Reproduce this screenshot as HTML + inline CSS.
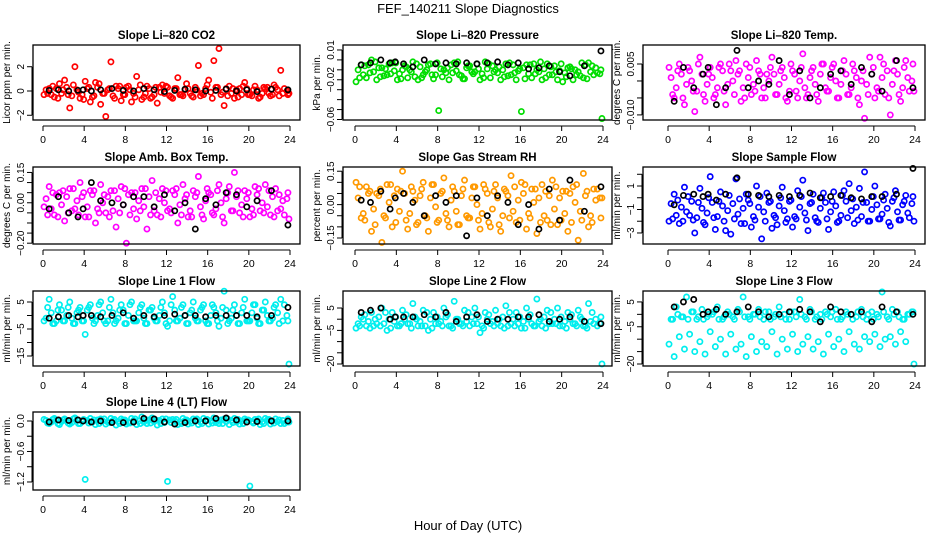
<!DOCTYPE html>
<html><head><meta charset="utf-8"><style>
body{margin:0;background:#fff}
svg{display:block;font-family:"Liberation Sans",Arial,sans-serif}
</style></head><body>
<svg id="chart" width="936" height="540" viewBox="0 0 936 540" xmlns="http://www.w3.org/2000/svg">
<rect width="936" height="540" fill="#fff"/>
<text x="468" y="13" text-anchor="middle" font-size="13">FEF_140211  Slope Diagnostics</text>
<text x="468" y="530" text-anchor="middle" font-size="13">Hour of Day (UTC)</text>
</svg>
<script>
const hoursA=[0.1,0.6,1.1,1.6,2.1,2.6,3.1,3.6,4.1,4.6,5.1,5.6,6.1,6.6,7.1,7.6,8.1,8.6,9.1,9.6,10.1,10.6,11.1,11.6,12.1,12.6,13.1,13.6,14.1,14.6,15.1,15.6,16.1,16.6,17.1,17.6,18.1,18.6,19.1,19.6,20.1,20.6,21.1,21.6,22.1,22.6,23.1,23.9];
const hoursB=[0.3,0.8,1.3,1.8,2.3,2.8,3.3,3.8,4.3,4.8,5.3,5.8,6.3,6.8,7.3,7.8,8.3,8.8,9.3,9.8,10.3,10.8,11.3,11.8,12.3,12.8,13.3,13.8,14.3,14.8,15.3,15.8,16.3,16.8,17.3,17.8,18.3,18.8,19.3,19.8,20.3,20.8,21.3,21.8,22.3,22.8,23.3,23.7];
const hoursC=[0.45,0.95,1.45,1.95,2.45,2.95,3.45,3.95,4.45,4.95,5.45,5.95,6.45,6.95,7.45,7.95,8.45,8.95,9.45,9.95,10.45,10.95,11.45,11.95,12.45,12.95,13.45,13.95,14.45,14.95,15.45,15.95,16.45,16.95,17.45,17.95,18.45,18.95,19.45,19.95,20.45,20.95,21.45,21.95,22.45,22.95,23.45,23.8];
const hoursK=[0.6,1.5,2.5,3.4,3.9,4.7,5.6,6.7,7.8,8.8,9.8,10.8,11.8,12.8,13.8,14.8,15.8,16.8,17.8,18.8,19.8,20.8,22.2,23.8];

const co2Outer=[-0.3,0.2,-0.5,0.6,0.9,-1.4,2.0,-0.6,0.8,-0.9,0.7,-1.1,-2.1,2.4,0.4,-0.8,0.3,-0.9,1.2,-0.7,0.4,-0.5,-1.0,0.5,0.3,-0.6,1.1,-0.4,0.2,-0.5,2.1,-0.3,0.9,2.5,3.5,-1.2,0.4,-0.6,0.2,0.7,-0.3,0.4,-0.5,0.2,-0.4,0.3,1.7,-0.2];
const co2Core=[0.1,-0.3,0.2,-0.2,0.3,-0.4,0.1,-0.3,0.2,-0.5,0.3,-0.2,0.1,-0.4,0.2,-0.3,0.4,-0.2,0.1,-0.5,0.2,-0.3,0.3,-0.2,-0.4,0.2,-0.3,0.1,-0.2,0.3,-0.4,0.2,-0.1,0.3,-0.3,0.2,-0.2,0.1,-0.3,0.2,-0.4,0.1,-0.2,0.3,-0.3,0.1,-0.2,0.0];
const co2Mid=[-0.2,0.4,-0.6,0.1,-0.3,0.5,-0.1,-0.7,0.3,-0.4,0.6,-0.2,0.2,-0.6,0.4,-0.3,0.1,-0.5,0.5,-0.2,-0.6,0.3,-0.1,0.4,-0.5,0.2,-0.3,0.6,-0.4,0.1,-0.2,0.5,-0.6,0.3,-0.1,-0.4,0.2,-0.5,0.4,-0.3,0.1,-0.6,0.3,-0.2,0.5,-0.4,0.2,-0.3];
const co2Black=[0.05,0.1,0.0,0.05,0.1,0.0,0.1,0.2,0.05,0.0,0.2,0.1,-0.05,0.05,0.15,0.1,0.0,0.05,0.15,0.0,0.1,-0.05,0.15,0.1];

const presOuter=[-0.022,-0.005,-0.018,0.0,-0.02,-0.008,-0.015,-0.003,-0.02,-0.01,-0.018,-0.002,-0.02,-0.015,-0.005,-0.019,-0.051,-0.01,-0.02,-0.003,-0.015,-0.019,-0.006,-0.012,-0.02,-0.002,-0.018,-0.01,-0.02,-0.004,-0.015,-0.02,-0.052,-0.005,-0.018,-0.01,-0.02,-0.004,-0.015,-0.02,-0.022,-0.008,-0.02,-0.012,-0.018,-0.003,-0.015,-0.059];
const presCore=[-0.01,-0.015,-0.005,-0.012,-0.008,-0.016,-0.004,-0.011,-0.014,-0.006,-0.01,-0.017,-0.007,-0.012,-0.004,-0.015,-0.009,-0.013,-0.005,-0.011,-0.016,-0.008,-0.012,-0.004,-0.014,-0.009,-0.006,-0.013,-0.01,-0.016,-0.005,-0.011,-0.008,-0.014,-0.004,-0.012,-0.009,-0.015,-0.006,-0.011,-0.013,-0.007,-0.01,-0.016,-0.005,-0.012,-0.008,-0.014];
const presMid=[-0.018,-0.006,-0.013,-0.002,-0.017,-0.009,-0.014,-0.003,-0.019,-0.007,-0.012,-0.004,-0.018,-0.01,-0.015,-0.003,-0.017,-0.008,-0.013,-0.002,-0.019,-0.006,-0.014,-0.009,-0.018,-0.004,-0.012,-0.007,-0.017,-0.003,-0.013,-0.009,-0.019,-0.005,-0.014,-0.002,-0.018,-0.007,-0.012,-0.004,-0.017,-0.009,-0.015,-0.003,-0.019,-0.006,-0.013,-0.01];
const presBlack=[-0.005,-0.003,0.0,-0.003,-0.002,-0.004,-0.007,0.0,-0.004,-0.003,-0.004,-0.003,-0.004,-0.003,-0.002,-0.005,-0.003,-0.009,-0.008,-0.006,-0.012,-0.016,-0.006,0.009];

const tempOuter=[0.004,-0.005,0.005,-0.007,0.003,-0.009,0.007,-0.006,0.004,-0.004,0.005,-0.007,0.003,0.006,-0.006,0.005,-0.004,0.006,-0.005,0.002,0.007,-0.004,0.004,-0.006,0.003,-0.005,0.008,-0.004,0.004,-0.006,0.005,-0.003,0.005,-0.005,0.006,-0.004,0.003,-0.007,-0.011,0.007,-0.005,0.007,-0.004,-0.010,0.006,-0.006,0.006,-0.003];
const tempCore=[0.001,-0.002,0.002,-0.001,0.0,-0.003,0.002,-0.001,0.001,-0.002,0.003,-0.001,0.0,0.002,-0.002,0.001,-0.001,0.003,-0.002,0.0,0.002,-0.001,0.001,-0.003,0.002,0.0,-0.002,0.001,-0.001,0.002,-0.002,0.001,0.0,-0.001,0.002,-0.002,0.001,0.0,-0.001,0.002,-0.002,0.001,0.003,-0.001,0.002,-0.002,0.001,0.0];
const tempMid=[-0.004,0.003,-0.005,0.004,-0.003,0.005,-0.004,0.002,-0.005,0.004,-0.003,0.005,-0.004,0.003,-0.005,0.004,-0.003,0.002,-0.005,0.004,-0.004,0.003,-0.005,0.005,-0.003,0.004,-0.005,0.003,-0.004,0.005,-0.003,0.004,-0.005,0.003,-0.004,0.005,-0.005,0.003,-0.004,0.004,-0.003,0.005,-0.005,0.003,-0.004,0.004,-0.003,0.005];
const tempBlack=[-0.006,0.004,-0.002,0.002,0.004,-0.007,-0.002,0.009,-0.002,0.0,-0.001,0.006,-0.004,0.003,-0.005,-0.002,0.002,0.003,-0.001,0.004,0.002,-0.003,0.006,-0.002];

const ambOuter=[-0.02,0.08,-0.06,0.05,-0.09,0.07,-0.03,0.1,-0.07,0.06,-0.1,0.09,-0.05,0.06,-0.12,0.08,-0.2,0.05,-0.08,0.07,-0.13,0.11,-0.06,0.07,-0.04,0.06,-0.1,0.09,-0.07,0.06,0.13,-0.08,0.05,-0.06,0.09,-0.1,0.08,0.15,-0.05,0.06,-0.07,0.08,-0.04,0.09,-0.06,0.07,-0.03,-0.08];
const ambCore=[0.02,-0.03,0.04,-0.01,0.03,-0.04,0.01,0.03,-0.02,0.04,-0.03,0.0,0.03,-0.04,0.02,-0.01,0.04,-0.03,0.01,-0.02,0.03,-0.04,0.02,0.0,-0.03,0.04,-0.01,0.02,-0.04,0.03,-0.02,0.01,0.04,-0.03,0.0,0.02,-0.04,0.03,-0.01,0.02,-0.03,0.04,0.0,-0.02,0.03,-0.04,0.01,0.02];
const ambMid=[-0.06,0.05,-0.07,0.06,-0.05,0.07,-0.06,0.05,-0.07,0.06,-0.05,0.04,-0.07,0.06,-0.05,0.07,-0.06,0.05,-0.04,0.07,-0.06,0.05,-0.07,0.06,-0.05,0.07,-0.06,0.04,-0.07,0.05,-0.06,0.07,-0.05,0.06,-0.07,0.05,-0.04,0.06,-0.07,0.05,-0.06,0.07,-0.05,0.06,-0.07,0.04,-0.06,0.05];
const ambBlack=[-0.03,0.03,-0.05,-0.07,-0.03,0.1,0.01,0.0,-0.01,0.03,0.03,-0.02,0.04,-0.04,0.0,-0.13,0.02,-0.01,0.05,0.04,-0.02,0.01,0.06,-0.11];

const rhOuter=[0.1,-0.06,0.08,-0.12,0.05,-0.17,0.09,-0.1,0.07,0.15,-0.11,0.06,-0.08,0.1,-0.12,0.09,-0.07,0.12,-0.1,0.06,-0.09,0.11,-0.06,0.08,-0.11,0.07,-0.1,0.09,-0.12,0.06,0.13,-0.08,0.1,-0.11,0.07,-0.13,0.09,-0.07,0.11,-0.09,0.06,-0.12,0.08,-0.16,0.14,-0.1,0.07,0.03];
const rhCore=[0.03,-0.04,0.05,-0.02,0.04,-0.05,0.01,0.04,-0.03,0.05,-0.04,0.02,0.04,-0.05,0.03,-0.01,0.05,-0.04,0.02,-0.03,0.04,-0.05,0.03,0.0,-0.04,0.05,-0.02,0.03,-0.05,0.04,-0.03,0.02,0.05,-0.04,0.01,0.03,-0.05,0.04,-0.02,0.03,-0.04,0.05,0.01,-0.03,0.04,-0.05,0.02,0.03];
const rhMid=[0.08,-0.07,0.06,-0.09,0.07,-0.06,0.09,-0.08,0.06,-0.07,0.08,-0.09,0.07,-0.06,0.09,-0.08,0.06,-0.07,0.08,-0.09,0.07,-0.06,0.08,-0.07,0.09,-0.08,0.06,-0.09,0.07,-0.06,0.08,-0.07,0.09,-0.06,0.07,-0.08,0.06,-0.09,0.08,-0.07,0.06,-0.08,0.09,-0.07,0.06,-0.08,0.07,-0.06];
const rhBlack=[0.02,0.01,0.06,-0.02,0.03,0.05,0.01,-0.05,0.04,0.01,0.04,-0.14,0.03,-0.05,0.04,0.01,-0.09,0.0,-0.11,0.07,-0.07,0.11,-0.03,0.08];

const flowOuter=[-2.0,0.3,-2.2,0.9,-1.5,-3.0,0.8,-2.3,1.8,-2.7,0.5,-2.8,-3.1,1.6,-2.2,0.3,-2.5,1.0,-3.5,0.4,-2.6,-2.3,0.9,-1.8,-2.5,0.6,1.5,-2.8,0.3,-2.1,0.4,-2.7,0.5,-2.0,0.6,1.2,-2.2,0.8,2.2,-2.0,1.0,-1.8,0.3,-2.4,0.6,-1.9,0.2,-2.0];
const flowCore=[-0.5,-1.5,-0.8,-1.2,-0.3,-1.7,-0.9,-1.3,-0.4,-1.6,-0.7,-1.1,-0.5,-1.4,-0.9,-0.2,-1.6,-0.8,-1.2,-0.4,-1.5,-0.7,-1.1,-0.3,-1.6,-0.8,-1.3,-0.5,-1.7,-0.9,-0.4,-1.2,-0.7,-1.5,-0.3,-1.1,-0.8,-1.6,-0.4,-1.0,-0.6,-1.4,-0.9,-0.3,-1.2,-0.6,-1.3,-0.5];
const flowMid=[-1.8,-0.2,-2.0,0.1,-1.9,-0.4,-2.1,0.0,-1.7,-0.3,-2.0,0.2,-1.8,-0.1,-2.2,-0.5,-1.9,0.1,-2.0,-0.3,-1.7,0.0,-2.1,-0.2,-1.8,0.1,-1.9,-0.4,-2.0,0.0,-1.8,-0.3,-2.1,0.2,-1.7,-0.1,-1.9,-0.4,-2.0,0.1,-1.8,-0.2,-2.1,0.0,-1.9,-0.3,-1.7,0.1];
const flowBlack=[-0.6,0.2,0.3,0.1,0.3,-0.2,0.3,1.7,0.3,0.2,0.1,0.2,0.1,0.2,0.4,0.0,0.1,0.2,0.0,-0.1,0.1,0.1,0.3,2.5];

const l1Outer=[-2,6,-3,4,-2,5,-3,3,-7,4,-2,5,-3,6,-2,4,-3,5,-2,4,-3,3,-2,5,-4,7,-2,4,-3,5,-2,4,-3,3,-4,9,-2,4,-3,6,-2,4,-3,5,-2,4,6,-18];
const l1Core=[-1,1,-2,2,0,-1,1,-2,2,-1,0,1,-2,1,-1,2,0,-2,1,-1,2,-1,0,1,-2,2,-1,0,1,-1,2,-2,0,1,-1,2,-1,0,1,-2,1,-1,2,0,-1,1,-2,0];
const l1Mid=[3,-3,2,-2,3,-3,2,-2,3,-3,4,-2,3,-3,2,-3,4,-2,3,-3,2,-2,3,-3,4,-2,3,-3,2,-2,3,-3,4,-2,3,-3,2,-3,3,-2,4,-3,2,-2,3,-3,4,-2];
const l1Black=[-1,-0.5,0,-0.5,0,0,-0.5,0,1,-1,0,-0.5,0,0.5,0,0,-0.5,0,0,0,0,-0.5,0,3];

const l2Outer=[-4,1,-3,3,-2,5,-5,3,-3,4,-2,7,-3,4,-5,3,-2,5,-3,8,-2,4,-3,5,-6,3,-2,4,-3,6,-2,3,-4,5,-2,9,-3,4,-2,5,-3,3,-2,4,-3,7,-2,-20];
const l2Core=[-2,0,-1,-3,1,-2,0,-1,-3,0,-2,1,-1,-3,0,-2,-1,1,-3,0,-2,-1,1,-2,-3,0,-1,-2,1,-3,0,-2,-1,0,-3,-1,1,-2,0,-3,-1,0,-2,1,-3,-1,0,-2];
const l2Mid=[-3,2,-4,0,-3,3,-4,1,-2,2,-4,0,-3,3,-4,1,-3,2,-4,0,-3,3,-2,1,-4,2,-3,0,-4,3,-3,1,-4,2,-3,0,-4,3,-2,1,-4,2,-3,0,-4,3,-3,1];
const l2Black=[3,4,5,0,1,1,1,2,1,3,-1,1,2,-1,0,0,1,1,2,-1,0,1,-1,-2];

const l3Outer=[-12,-17,-9,-14,-8,-15,-11,-16,-7,-13,-10,-16,-8,-14,-12,-17,-9,-15,-11,-13,-7,-16,-10,-14,-8,-15,-12,-9,-14,-11,-16,-8,-13,-10,-15,-7,-12,-14,-9,-11,-8,-13,-10,-9,-12,-7,-11,-20];
const l3Core=[-2,3,-1,7,1,-2,2,-1,0,3,-2,1,-1,2,7,-1,0,2,-2,1,-1,3,0,-2,1,6,-1,2,-2,0,1,-1,2,-2,1,0,-1,2,-2,1,0,9,-1,2,1,-2,0,1];
const l3Mid=[-2,0,-1,-2,1,-1,-2,0,1,-2,-1,0,-2,1,-1,-2,0,-1,1,-2,0,-1,-2,1,-1,0,-2,1,-1,-2,0,1,-2,-1,0,-2,1,-1,0,-2,-1,1,-2,0,-1,-2,0,1];
const l3Black=[3,5,6,0,1,2,0,1,3,1,-1,0,1,2,1,-3,3,1,0,1,-3,3,1,0];

const l4Outer=[0.03,-0.05,0.05,-0.07,0.04,-0.06,0.06,-0.05,-1.15,0.05,-0.07,0.04,-0.06,0.05,-0.08,0.04,-0.06,0.05,-0.07,0.08,-0.05,0.06,-0.08,0.04,-1.19,0.03,-0.07,0.05,-0.06,0.04,-0.07,0.05,-0.06,0.06,-0.05,0.04,-0.07,0.05,-0.06,0.04,-1.28,0.03,-0.07,0.05,-0.06,0.04,-0.05,-0.02];
const l4Core=[0.01,-0.02,0.02,-0.01,0.0,-0.03,0.02,-0.01,0.01,-0.02,0.02,0.0,-0.02,0.01,-0.01,0.02,-0.03,0.01,0.0,-0.02,0.02,-0.01,0.01,-0.03,0.02,0.0,-0.02,0.01,-0.01,0.02,-0.02,0.01,0.0,-0.03,0.02,-0.01,0.01,-0.02,0.0,0.02,-0.01,0.01,-0.02,0.02,0.0,-0.01,0.01,-0.02];
const l4Mid=[-0.04,0.03,-0.05,0.02,-0.04,0.04,-0.05,0.03,-0.04,0.02,-0.05,0.04,-0.03,0.03,-0.05,0.02,-0.04,0.04,-0.05,0.03,-0.04,0.02,-0.05,0.04,-0.03,0.03,-0.05,0.02,-0.04,0.04,-0.05,0.03,-0.04,0.02,-0.05,0.04,-0.03,0.03,-0.05,0.02,-0.04,0.04,-0.05,0.03,-0.04,0.02,-0.05,0.04];
const l4Black=[-0.02,0.02,0.01,0.02,0.0,-0.02,0.0,-0.03,-0.03,-0.02,0.05,0.04,-0.02,-0.06,-0.03,0.0,0.0,0.05,0.06,0.02,-0.02,-0.01,0.0,0.0];

const xTicks=[0,4,8,12,16,20,24];

const cols=[{bx:33,bw:267,x0:43,x24:290},{bx:343,bw:269,x0:355,x24:603},{bx:643,bw:282,x0:668,x24:915}];
const rows=[{by:45,bh:75},{by:167,bh:77},{by:291,bh:75},{by:412,bh:78}];
const panels=[
 {name:"co2",title:"Slope Li\u2013820 CO2",ylab:"Licor ppm per min.",c:0,r:0,ymin:-2.39,ymax:3.79,ticks:[-2,0,2],labs:["\u22122","0","2"],color:"#ff0000",outer:co2Outer,core:co2Core,mid:co2Mid,black:co2Black},
 {name:"pressure",title:"Slope Li\u2013820 Pressure",ylab:"kPa per min.",c:1,r:0,ymin:-0.0605,ymax:0.015,ticks:[0.01,0,-0.01,-0.02,-0.03,-0.04,-0.05,-0.06],labs:["0.01","","","\u22120.02","","","","\u22120.06"],color:"#00dd00",outer:presOuter,core:presCore,mid:presMid,black:presBlack},
 {name:"temp",title:"Slope Li\u2013820 Temp.",ylab:"degrees C per min.",c:2,r:0,ymin:-0.0115,ymax:0.0106,ticks:[0.005,0,-0.005,-0.01],labs:["0.005","","","\u22120.010"],color:"#ff00ff",outer:tempOuter,core:tempCore,mid:tempMid,black:tempBlack},
 {name:"amb-box-temp",title:"Slope Amb. Box Temp.",ylab:"degrees C per min.",c:0,r:1,ymin:-0.204,ymax:0.177,ticks:[0.15,0.1,0.05,0,-0.05,-0.1,-0.15,-0.2],labs:["0.15","","","0.00","","","","\u22120.20"],color:"#ff00ff",outer:ambOuter,core:ambCore,mid:ambMid,black:ambBlack},
 {name:"gas-stream-rh",title:"Slope Gas Stream RH",ylab:"percent per min.",c:1,r:1,ymin:-0.177,ymax:0.169,ticks:[0.15,0.1,0.05,0,-0.05,-0.1,-0.15],labs:["0.15","","","0.00","","","\u22120.15"],color:"#ff9900",outer:rhOuter,core:rhCore,mid:rhMid,black:rhBlack},
 {name:"sample-flow",title:"Slope Sample Flow",ylab:"ml/min per min.",c:2,r:1,ymin:-3.94,ymax:2.62,ticks:[2,1,0,-1,-2,-3],labs:["","1","","\u22121","","\u22123"],color:"#0000ff",outer:flowOuter,core:flowCore,mid:flowMid,black:flowBlack},
 {name:"line1-flow",title:"Slope Line 1 Flow",ylab:"ml/min per min.",c:0,r:2,ymin:-18.7,ymax:9.07,ticks:[5,0,-5,-10,-15],labs:["5","","\u22125","","\u221215"],color:"#00eeee",outer:l1Outer,core:l1Core,mid:l1Mid,black:l1Black},
 {name:"line2-flow",title:"Slope Line 2 Flow",ylab:"ml/min per min.",c:1,r:2,ymin:-20.9,ymax:12.6,ticks:[5,0,-5,-10,-15,-20],labs:["5","","\u22125","","","\u221220"],color:"#00eeee",outer:l2Outer,core:l2Core,mid:l2Mid,black:l2Black},
 {name:"line3-flow",title:"Slope Line 3 Flow",ylab:"ml/min per min.",c:2,r:2,ymin:-20.8,ymax:9.4,ticks:[5,0,-5,-10,-15,-20],labs:["5","","\u22125","","","\u221220"],color:"#00eeee",outer:l3Outer,core:l3Core,mid:l3Mid,black:l3Black},
 {name:"line4-flow",title:"Slope Line 4 (LT) Flow",ylab:"ml/min per min.",c:0,r:3,ymin:-1.358,ymax:0.177,ticks:[0,-0.3,-0.6,-0.9,-1.2],labs:["0.0","","\u22120.6","","\u22121.2"],color:"#00eeee",outer:l4Outer,core:l4Core,mid:l4Mid,black:l4Black}
];
const NS="http://www.w3.org/2000/svg";
const svg=document.getElementById('chart');
function mk(tag,attrs,parent){const e=document.createElementNS(NS,tag);for(const k in attrs)e.setAttribute(k,attrs[k]);(parent||svg).appendChild(e);return e;}
panels.forEach(p=>{
 const C=cols[p.c],R=rows[p.r];
 const g=mk('g',{});
 
 
 const xs=h=>C.x0+(C.x24-C.x0)*h/24;
 const ys=v=>R.by+R.bh*(p.ymax-v)/(p.ymax-p.ymin);
 const t=mk('text',{x:C.bx+C.bw/2,y:R.by-6,'text-anchor':'middle','font-size':'11.5','font-weight':'bold'},g);
 t.textContent=p.title;
 
 
 const yl=mk('text',{transform:`translate(${C.bx-23},${R.by+R.bh/2}) rotate(-90)`,'text-anchor':'middle','font-size':'10'},g);
 yl.textContent=p.ylab;
 
 
 const pts=mk('g',{fill:'none','stroke-width':'1.7'},g);
 
 
 [[p.outer,hoursA],[p.core,hoursB],[p.mid,hoursC]].forEach(([vals,hs])=>{
  vals.forEach((v,i)=>{
   const c=mk('circle',{cx:xs(hs[i]),cy:ys(v),r:2.6,stroke:p.color},pts);
   
   
  });
 });
 p.black.forEach((v,i)=>{
  const c=mk('circle',{cx:xs(hoursK[i]),cy:ys(v),r:2.6,stroke:'#000'},pts);
  
  
 });
 const box=mk('rect',{x:C.bx,y:R.by,width:C.bw,height:R.bh,fill:'none',stroke:'#000','stroke-width':'1.3'},g);
 
 
 const xa=mk('g',{},g);
 
 
 const yb=R.by+R.bh;
 mk('line',{x1:xs(0),x2:xs(24),y1:yb+6,y2:yb+6,stroke:'#000','stroke-width':'1'},xa);
 xTicks.forEach(h=>{
  mk('line',{x1:xs(h),x2:xs(h),y1:yb+6,y2:yb+11,stroke:'#000','stroke-width':'1'},xa);
  const tl=mk('text',{x:xs(h),y:yb+23,'text-anchor':'middle','font-size':'10.5'},xa);
  tl.textContent=h;
  
  
 });
 const ya=mk('g',{},g);
 
 
 const ax=C.bx-1;
 mk('line',{x1:ax,x2:ax,y1:ys(p.ticks[0]),y2:ys(p.ticks[p.ticks.length-1]),stroke:'#000','stroke-width':'1'},ya);
 p.ticks.forEach((v,i)=>{
  const y=ys(v);
  mk('line',{x1:ax-5,x2:ax,y1:y,y2:y,stroke:'#000','stroke-width':'1'},ya);
  if(p.labs[i]){
   const tl=mk('text',{transform:`translate(${ax-8},${y}) rotate(-90)`,'text-anchor':'middle','font-size':'10'},ya);
   tl.textContent=p.labs[i];
   
   
  }
 });
});
</script>
</body></html>
